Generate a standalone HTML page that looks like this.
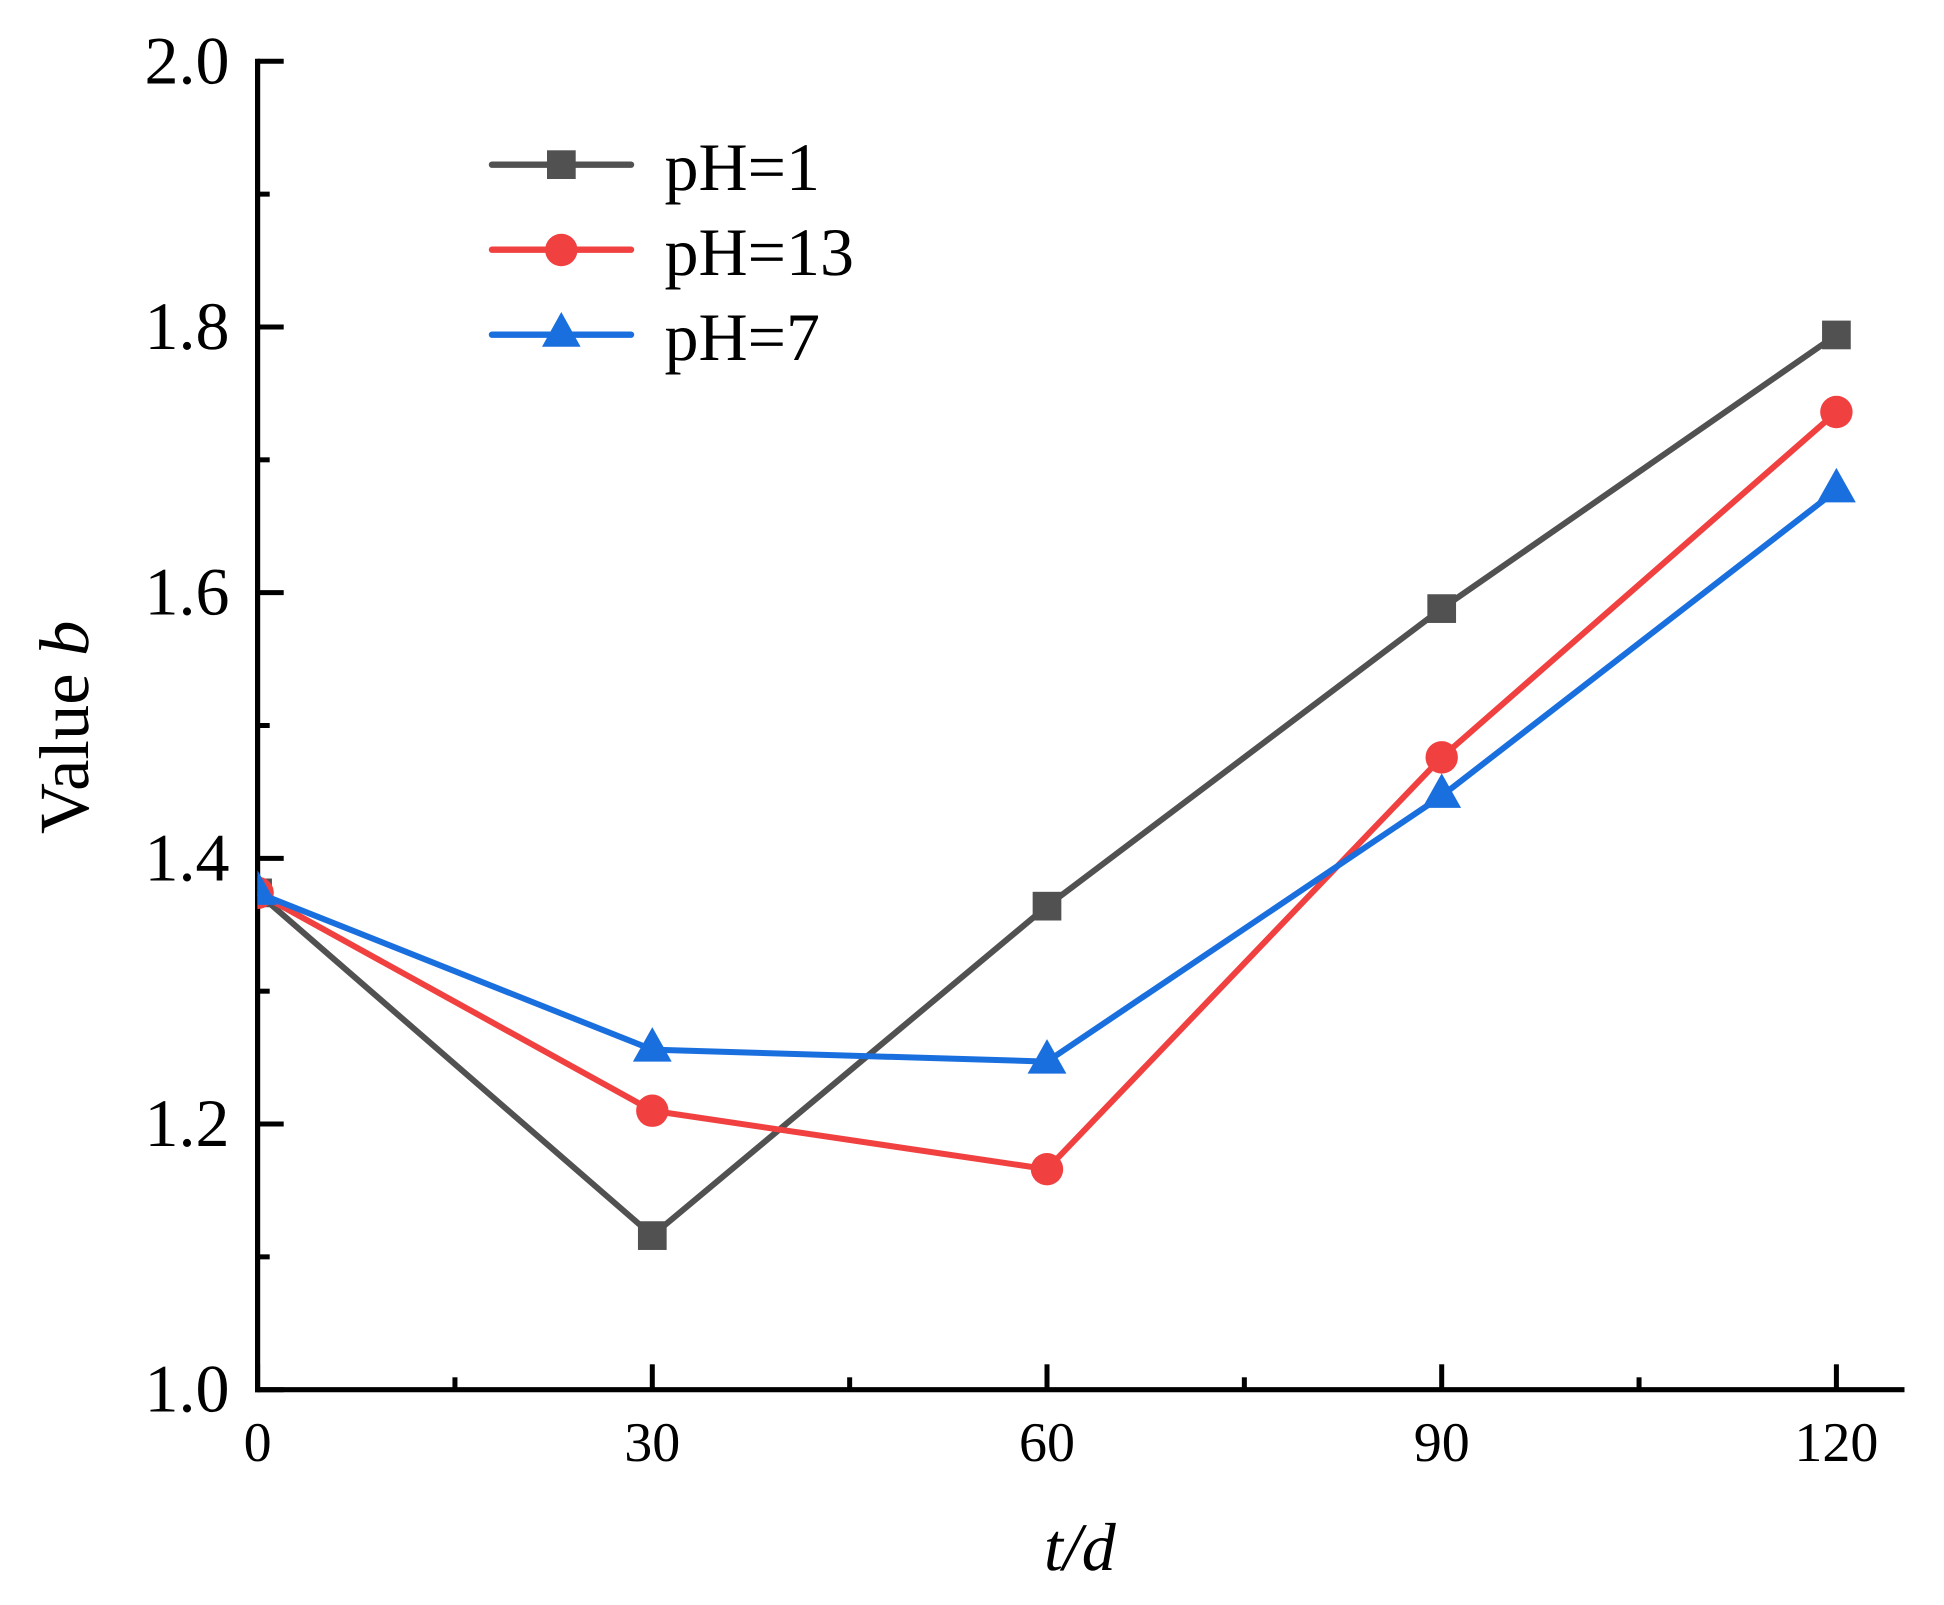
<!DOCTYPE html>
<html lang="en">
<head>
<meta charset="utf-8">
<title>Value b versus t/d</title>
<style>
  html, body { margin: 0; padding: 0; background: #ffffff; }
  body { width: 1944px; height: 1605px; overflow: hidden; }
  svg { display: block; }
  text { font-family: "Liberation Serif", "Times New Roman", serif; fill: #000000; text-rendering: geometricPrecision; }
</style>
</head>
<body>
<svg id="chart" xmlns="http://www.w3.org/2000/svg" width="1944" height="1605" viewBox="0 0 1944 1605">
  <defs>
    <clipPath id="plot-clip"><rect x="257.4" y="0" width="1686.6" height="1605"/></clipPath>
  </defs>
  <rect x="0" y="0" width="1944" height="1605" fill="#ffffff"/>
  <g id="axes"></g>
  <g id="series" clip-path="url(#plot-clip)"></g>

  <text transform="translate(88 834) rotate(-90)" font-size="70.5">Value <tspan font-style="italic">b</tspan></text>
  <text x="1044" y="1570" font-size="68" font-style="italic">t/d</text>

  <g>
    <g>
      <line x1="492" y1="164.7" x2="631" y2="164.7" stroke="#515151" stroke-width="6.4" stroke-linecap="round"/>
      <rect x="547" y="150.3" width="28.7" height="28.7" fill="#515151"/>
      <text x="664.5" y="190" font-size="68">pH=1</text>
    </g>
    <g>
      <line x1="492" y1="249.7" x2="631" y2="249.7" stroke="#f14040" stroke-width="6.4" stroke-linecap="round"/>
      <circle cx="561.3" cy="250" r="16.2" fill="#f14040"/>
      <text x="664.5" y="275" font-size="68">pH=13</text>
    </g>
    <g>
      <line x1="492" y1="334.7" x2="631" y2="334.7" stroke="#1a6fdf" stroke-width="6.4" stroke-linecap="round"/>
      <polygon points="561.3,312 580.6,346.7 542,346.7" fill="#1a6fdf"/>
      <text x="664.5" y="360" font-size="68">pH=7</text>
    </g>
  </g>
</svg>

<script>
// Chart data
const xValues = [0, 30, 60, 90, 120];
const seriesPh1 = [1.374, 1.116, 1.364, 1.588, 1.794];
const seriesPh13 = [1.374, 1.210, 1.166, 1.476, 1.736];
const seriesPh7 = [1.374, 1.256, 1.247, 1.447, 1.677];
const xMajorTicks = [0, 30, 60, 90, 120];
const xMinorTicks = [15, 45, 75, 105];
const yMajorTicks = [1.0, 1.2, 1.4, 1.6, 1.8, 2.0];
const yMinorTicks = [1.1, 1.3, 1.5, 1.7, 1.9];
const xTickLabels = ['0', '30', '60', '90', '120'];
const yTickLabels = ['1.0', '1.2', '1.4', '1.6', '1.8', '2.0'];

// Axis functions
function xScale(v) { return 257.6 + v * (394.7 / 30); }
function yScale(v) { return 1389.7 - (v - 1) * 1328.4; }

const NS = 'http://www.w3.org/2000/svg';
const axes = document.getElementById('axes');
const seriesRoot = document.getElementById('series');

function make(tag, parent, props) {
  const el = document.createElementNS(NS, tag);
  for (const k in props) el.setAttribute(k, props[k]);
  parent.appendChild(el);
  return el;
}

// Axis lines
const yAxisLine = make('line', axes, { x1: xScale(0), y1: yScale(2) - 2.6, x2: xScale(0), y2: yScale(1) + 2.6, stroke: '#000', 'stroke-width': 5.2 });


const xAxisLine = make('line', axes, { x1: xScale(0) - 2.6, y1: yScale(1), x2: 1904.5, y2: yScale(1), stroke: '#000', 'stroke-width': 5.2 });



// X ticks and labels
xMajorTicks.forEach(function (t, i) {
  const tick = make('line', axes, { x1: xScale(t), y1: yScale(1), x2: xScale(t), y2: 1364.3, stroke: '#000', 'stroke-width': 5 });
  
  
  const label = make('text', axes, { x: xScale(t), y: 1461, 'font-size': 56, 'text-anchor': 'middle' });
  label.textContent = xTickLabels[i];
  
  
});
xMinorTicks.forEach(function (t) {
  const tick = make('line', axes, { x1: xScale(t), y1: yScale(1), x2: xScale(t), y2: 1377.3, stroke: '#000', 'stroke-width': 5 });
  
  
});

// Y ticks and labels
yMajorTicks.forEach(function (t, i) {
  const tick = make('line', axes, { x1: xScale(0), y1: yScale(t), x2: 283.7, y2: yScale(t), stroke: '#000', 'stroke-width': 5 });
  
  
  const label = make('text', axes, { x: 229.5, y: yScale(t) + 22, 'font-size': 68, 'text-anchor': 'end' });
  label.textContent = yTickLabels[i];
  
  
});
yMinorTicks.forEach(function (t) {
  const tick = make('line', axes, { x1: xScale(0), y1: yScale(t), x2: 269.7, y2: yScale(t), stroke: '#000', 'stroke-width': 5 });
  
  
});

// Series
function drawLine(values, color, group) {
  const pts = values.map(function (v, i) { return xScale(xValues[i]) + ',' + yScale(v); }).join(' ');
  const line = make('polyline', group, { points: pts, fill: 'none', stroke: color, 'stroke-width': 6, 'stroke-linejoin': 'miter' });
  
  
}

const groupPh1 = make('g', seriesRoot, {});


drawLine(seriesPh1, '#515151', groupPh1);
seriesPh1.forEach(function (v, i) {
  const m = make('rect', groupPh1, { x: xScale(xValues[i]) - 14.35, y: yScale(v) - 14.35, width: 28.7, height: 28.7, fill: '#515151' });
  
  
});

const groupPh13 = make('g', seriesRoot, {});


drawLine(seriesPh13, '#f14040', groupPh13);
seriesPh13.forEach(function (v, i) {
  const m = make('circle', groupPh13, { cx: xScale(xValues[i]), cy: yScale(v), r: 16.2, fill: '#f14040' });
  
  
});

const groupPh7 = make('g', seriesRoot, {});


drawLine(seriesPh7, '#1a6fdf', groupPh7);
seriesPh7.forEach(function (v, i) {
  const cx = xScale(xValues[i]);
  const cy = yScale(v);
  const m = make('polygon', groupPh7, { points: cx + ',' + (cy - 22.5) + ' ' + (cx + 19.4) + ',' + (cy + 12) + ' ' + (cx - 19.4) + ',' + (cy + 12), fill: '#1a6fdf' });
  
  
});
</script>
</body>
</html>
